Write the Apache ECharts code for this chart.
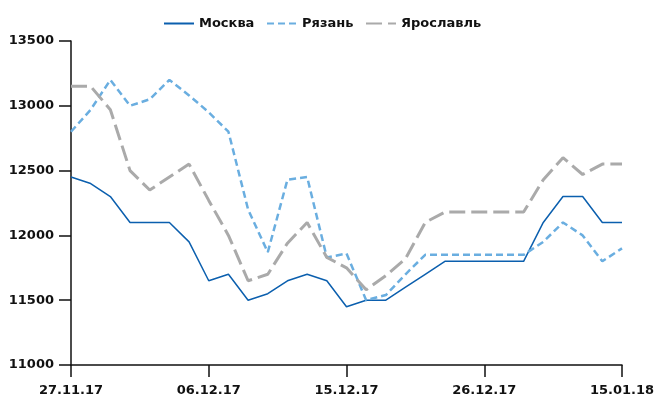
<!DOCTYPE html>
<html>
<head>
<meta charset="utf-8">
<script src="https://cdn.jsdelivr.net/npm/echarts@6/dist/echarts.min.js"></script>
<style>
html,body{margin:0;padding:0;background:#fff;}
#chart{width:655px;height:400px;}
</style>
</head>
<body>
<div id="chart"></div>
<script>
// торговые дни
var dates = ['27.11.17','28.11.17','29.11.17','30.11.17','01.12.17','04.12.17','05.12.17',
	'06.12.17','07.12.17','08.12.17','11.12.17','12.12.17','13.12.17','14.12.17',
	'15.12.17','18.12.17','19.12.17','20.12.17','21.12.17','22.12.17','25.12.17',
	'26.12.17','27.12.17','28.12.17','29.12.17','10.01.18','11.01.18','12.01.18','15.01.18'];

var moskva = [12450,12400,12300,12100,12100,12100,11950,11650,11700,11500,11550,11650,11700,11650,
	11450,11500,11500,11600,11700,11800,11800,11800,11800,11800,12100,12300,12300,12100,12100];

var ryazan = [12800,12970,13200,13000,13050,13200,13080,12950,12800,12200,11870,12430,12450,11830,
	11860,11500,11540,11700,11850,11850,11850,11850,11850,11850,11950,12100,12000,11800,11900];

var yaroslavl = [13150,13150,12970,12500,12350,12450,12550,12270,12000,11650,11700,11940,12100,11830,
	11750,11580,11690,11820,12100,12180,12180,12180,12180,12180,12430,12600,12470,12550,12550];

var names = ['Москва','Рязань','Ярославль'];

var font = 'DejaVu Sans';
var myChart = echarts.init(document.getElementById('chart'),null,{renderer:'canvas'});

// по легенде на серию, чтобы поставить их как в оригинале
var legendLeft = [158,261,360];
var legends = names.map(function(n,i){
	return {
		left:legendLeft[i],
		top:12,
		itemWidth:30,
		itemHeight:14,
		itemStyle:{opacity:0},
		textStyle:{fontFamily:font,fontWeight:'bold',fontSize:13,color:'#111'},
		data:[n]
	};
});

var option = {
	animation:false,
	textStyle:{fontFamily:font},
	legend:legends,
	grid:{left:71,right:33,top:41,bottom:35,containLabel:false,outerBoundsMode:'none'},
	xAxis:{
		type:'category',
		data:dates,
		boundaryGap:false,
		axisLine:{show:true,lineStyle:{color:'#111',width:1.5}},
		axisTick:{show:true,interval:6,length:12,lineStyle:{color:'#111',width:1.5}},
		axisLabel:{interval:6,margin:19,fontFamily:font,fontWeight:'bold',fontSize:13,color:'#111',hideOverlap:false},
		splitLine:{show:false}
	},
	yAxis:{
		type:'value',
		min:11000,
		max:13500,
		interval:500,
		axisLine:{show:true,lineStyle:{color:'#111',width:1.5}},
		axisTick:{show:true,length:12,lineStyle:{color:'#111',width:1.5}},
		axisLabel:{margin:17,fontFamily:font,fontWeight:'bold',fontSize:13,color:'#111',
			formatter:function(v){return String(v);}},
		splitLine:{show:false}
	},
	series:[
		{
			name:names[0],type:'line',data:moskva,symbol:'none',
			itemStyle:{color:'#0b5fae'},
			lineStyle:{color:'#0b5fae',width:1.5}
		},
		{
			name:names[1],type:'line',data:ryazan,symbol:'none',
			itemStyle:{color:'#6aaee0'},
			lineStyle:{color:'#6aaee0',width:2.5,type:[7,4]}
		},
		{
			name:names[2],type:'line',data:yaroslavl,symbol:'none',
			itemStyle:{color:'#aaaaaa'},
			lineStyle:{color:'#aaaaaa',width:3,type:[16,6]}
		}
	]
};
myChart.setOption(option);
</script>
</body>
</html>
